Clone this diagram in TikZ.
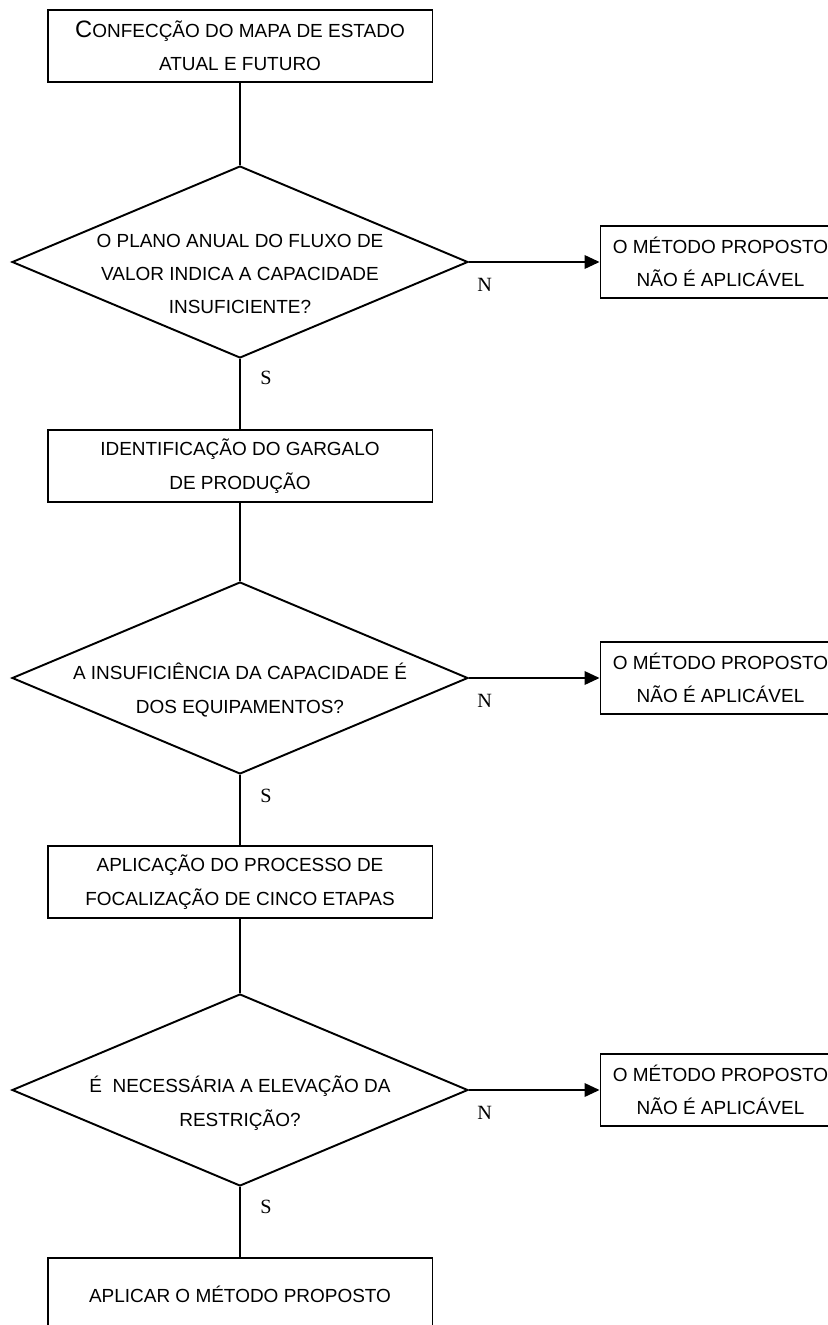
\documentclass[tikz,border=0pt]{standalone}
\usepackage{fontspec}
\setmainfont{Liberation Sans}
\newfontfamily\ynfont{Liberation Serif}
\usepackage{xcolor}
\usetikzlibrary{arrows.meta,positioning,shapes.geometric}
\definecolor{ink}{HTML}{000000}

\begin{document}
\begin{tikzpicture}[x=0.02cm,y=-0.02cm,
    stepbox/.style={draw=ink,line width=1.1pt,minimum width=7.7cm,minimum height=1.44cm,
      inner sep=0pt,align=center,font=\fontsize{10.8}{19}\selectfont},
    endbox/.style={stepbox,minimum width=4.8cm},
    decision/.style={draw=ink,line width=1.1pt,shape=diamond,minimum width=9.12cm,
      minimum height=3.84cm,inner sep=0pt},
    qtext/.style={align=center,font=\fontsize{10.8}{19}\selectfont},
    yn/.style={inner sep=0pt,font=\ynfont\fontsize{11.5}{12}\selectfont},
    flow/.style={draw=ink,line width=1.1pt},
    flowarrow/.style={flow,-{Triangle[length=0.3cm,width=0.27cm]}}]
    \path[use as bounding box] (0,0) rectangle (828,1325);
    % start
    \node[stepbox] (mapa) at (240,46)
      {{\fontsize{13.5}{19}\selectfont C}ONFECÇÃO DO MAPA DE ESTADO\\ATUAL E FUTURO};
    % first question
    \node[decision] (qplano) at (240,262) {};
    \node[qtext] (tplano) at ([yshift=-0.24cm]qplano.center)
      {O PLANO ANUAL DO FLUXO DE\\VALOR INDICA A CAPACIDADE\\INSUFICIENTE?};
    \node[endbox] (fim1) at (720.5,262) {O MÉTODO PROPOSTO\\NÃO É APLICÁVEL};
    \node[yn,below right=0.32cm and 0.16cm of qplano.east] (n1) {N};
    \node[yn,below right=0.24cm and 0.4cm of qplano.south] (s1) {S};
    % bottleneck
    \node[stepbox] (gargalo) at (240,466) {IDENTIFICAÇÃO DO GARGALO\\DE PRODUÇÃO};
    % second question
    \node[decision] (qequip) at (240,678) {};
    \node[qtext] (tequip) at ([yshift=-0.24cm]qequip.center)
      {A INSUFICIÊNCIA DA CAPACIDADE É\\DOS EQUIPAMENTOS?};
    \node[endbox] (fim2) at (720.5,678) {O MÉTODO PROPOSTO\\NÃO É APLICÁVEL};
    \node[yn,below right=0.32cm and 0.16cm of qequip.east] (n2) {N};
    \node[yn,below right=0.28cm and 0.4cm of qequip.south] (s2) {S};
    % five steps
    \node[stepbox] (etapas) at (240,882)
      {APLICAÇÃO DO PROCESSO DE\\FOCALIZAÇÃO DE CINCO ETAPAS};
    % third question
    \node[decision] (qrestr) at (240,1090) {};
    \node[qtext] (trestr) at ([yshift=-0.26cm]qrestr.center)
      {É\ \ NECESSÁRIA A ELEVAÇÃO DA\\RESTRIÇÃO?};
    \node[endbox] (fim3) at (720.5,1090) {O MÉTODO PROPOSTO\\NÃO É APLICÁVEL};
    \node[yn,below right=0.32cm and 0.16cm of qrestr.east] (n3) {N};
    \node[yn,below right=0.26cm and 0.4cm of qrestr.south] (s3) {S};
    % end
    \node[stepbox] (aplicar) at (240,1294) {APLICAR O MÉTODO PROPOSTO};
    % connectors
    \draw[flow] (mapa) -- (qplano);
    \draw[flowarrow] (qplano) -- (fim1);
    \draw[flow] (qplano) -- (gargalo);
    \draw[flow] (gargalo) -- (qequip);
    \draw[flowarrow] (qequip) -- (fim2);
    \draw[flow] (qequip) -- (etapas);
    \draw[flow] (etapas) -- (qrestr);
    \draw[flowarrow] (qrestr) -- (fim3);
    \draw[flow] (qrestr) -- (aplicar);
\end{tikzpicture}
\end{document}
